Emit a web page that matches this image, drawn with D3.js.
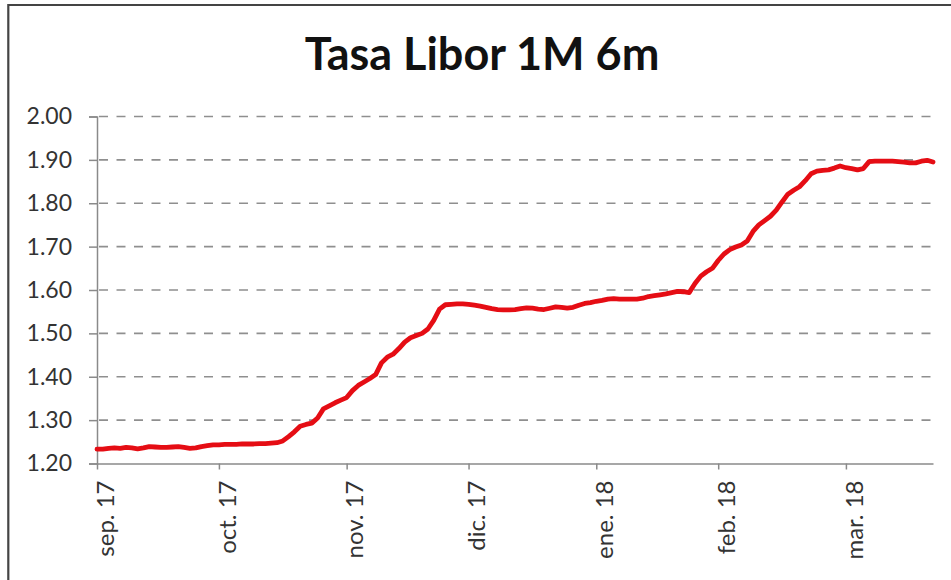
<!DOCTYPE html>
<html>
<head>
<meta charset="utf-8">
<script src="https://cdn.jsdelivr.net/npm/d3@7"></script>
<style>
  html, body { margin: 0; padding: 0; background: #fff; }
  svg { display: block; }
</style>
</head>
<body>
<svg id="chart" width="951" height="580"></svg>
<script>
// Tasa Libor 1M, últimos 6 meses (observaciones diarias hábiles)
const title = "Tasa Libor 1M 6m";

const rates = [
  1.233, 1.233, 1.235, 1.236, 1.235, 1.237, 1.236, 1.234, 1.236, 1.239,
  1.238, 1.237, 1.237, 1.238, 1.239, 1.237, 1.235, 1.236, 1.239, 1.241,
  1.243, 1.243, 1.244, 1.244, 1.244, 1.245, 1.245, 1.245, 1.246, 1.246,
  1.247, 1.248, 1.252, 1.262, 1.273, 1.286, 1.290, 1.293, 1.305, 1.326,
  1.333, 1.340, 1.346, 1.352, 1.368, 1.380, 1.388, 1.396, 1.405, 1.432,
  1.445, 1.452, 1.465, 1.480, 1.490, 1.495, 1.500, 1.510, 1.530, 1.556,
  1.566, 1.567, 1.568, 1.568, 1.567, 1.565, 1.563, 1.560, 1.557, 1.555,
  1.554, 1.554, 1.555, 1.557, 1.559, 1.558, 1.556, 1.555, 1.558, 1.561,
  1.560, 1.558, 1.560, 1.565, 1.569, 1.571, 1.574, 1.576, 1.579, 1.580,
  1.579, 1.579, 1.579, 1.579, 1.581, 1.585, 1.587, 1.589, 1.591, 1.594,
  1.597, 1.596, 1.594, 1.615, 1.632, 1.642, 1.650, 1.668, 1.683, 1.693,
  1.699, 1.704, 1.713, 1.735, 1.750, 1.760, 1.770, 1.784, 1.803, 1.821,
  1.830, 1.838, 1.852, 1.868, 1.874, 1.876, 1.877, 1.881, 1.886, 1.882,
  1.880, 1.877, 1.880, 1.896, 1.897, 1.897, 1.897, 1.897, 1.896, 1.895,
  1.893, 1.893, 1.897, 1.899, 1.895
];

// Month labels and the observation index where each month begins
const monthLabels = ["sep. 17", "oct. 17", "nov. 17", "dic. 17", "ene. 18", "feb. 18", "mar. 18"];
const monthStarts = [0, 21, 43, 64, 86, 107, 129];

const yTicks = [1.20, 1.30, 1.40, 1.50, 1.60, 1.70, 1.80, 1.90, 2.00];

const svg = d3.select("#chart");
const W = 951, H = 580;

const plot = { left: 97, right: 933, top: 116.5, bottom: 463.5 };

const x = d3.scaleLinear()
  .domain([0, rates.length - 1])
  .range([plot.left, plot.right]);

const y = d3.scaleLinear()
  .domain([1.20, 2.00])
  .range([plot.bottom, plot.top]);

// Outer frame (top and left edges)
svg.append("line")
  .attr("x1", 8.3).attr("x2", W).attr("y1", 5).attr("y2", 5)
  .attr("stroke", "#444").attr("stroke-width", 2.2);
svg.append("line")
  .attr("x1", 8.3).attr("x2", 8.3).attr("y1", 4).attr("y2", H)
  .attr("stroke", "#444").attr("stroke-width", 2.2);

// Title
svg.append("text")
  .attr("x", 482).attr("y", 70)
  .attr("text-anchor", "middle")
  .attr("font-family", "Lato, 'Open Sans', sans-serif")
  .attr("font-weight", "bold")
  .attr("font-size", 45)
  .attr("fill", "#111")
  .text(title);

// Horizontal dashed gridlines
svg.append("g")
  .selectAll("line")
  .data(yTicks.filter(v => v > 1.20))
  .join("line")
  .attr("x1", plot.left + 2)
  .attr("x2", plot.right)
  .attr("y1", d => y(d))
  .attr("y2", d => y(d))
  .attr("stroke", "#8f8f8f")
  .attr("stroke-width", 1.6)
  .attr("stroke-dasharray", "9,8.5");

// Y axis
const yAxis = d3.axisLeft(y)
  .tickValues(yTicks)
  .tickFormat(d3.format(".2f"))
  .tickSize(8)
  .tickPadding(17);

const gy = svg.append("g")
  .attr("transform", `translate(${plot.left},0)`)
  .call(yAxis);
gy.select(".domain").attr("stroke", "#8a8a8a").attr("stroke-width", 1.5);
gy.selectAll(".tick line").attr("stroke", "#8a8a8a").attr("stroke-width", 1.5);
gy.selectAll(".tick text")
  .attr("font-family", "Lato, 'Open Sans', sans-serif")
  .attr("font-size", 23)
  .attr("fill", "#333");

// X axis
const xAxis = d3.axisBottom(x)
  .tickValues(monthStarts)
  .tickFormat((d, i) => monthLabels[i])
  .tickSize(6)
  .tickSizeOuter(0);

const gx = svg.append("g")
  .attr("transform", `translate(0,${plot.bottom})`)
  .call(xAxis);
gx.select(".domain").attr("stroke", "#8a8a8a").attr("stroke-width", 1.5);
gx.selectAll(".tick line").attr("stroke", "#8a8a8a").attr("stroke-width", 1.5);
gx.selectAll(".tick text")
  .attr("font-family", "Lato, 'Open Sans', sans-serif")
  .attr("font-size", 24)
  .attr("fill", "#333")
  .attr("text-anchor", "end")
  .attr("transform", "translate(-1,17) rotate(-90)")
  .attr("x", 0)
  .attr("y", 0)
  .attr("dy", "0.72em");

// Rate line
const line = d3.line()
  .x((d, i) => x(i))
  .y(d => y(d));

svg.append("path")
  .datum(rates)
  .attr("fill", "none")
  .attr("stroke", "#e50d14")
  .attr("stroke-width", 4.8)
  .attr("stroke-linejoin", "round")
  .attr("stroke-linecap", "round")
  .attr("d", line);
</script>
</body>
</html>
